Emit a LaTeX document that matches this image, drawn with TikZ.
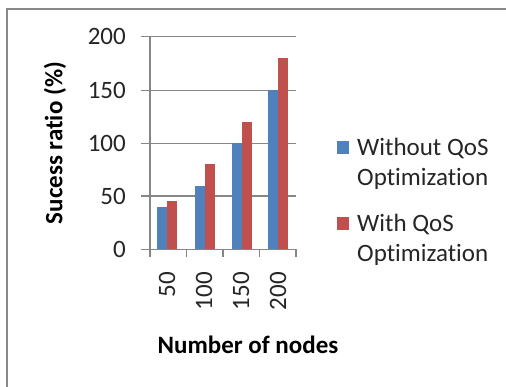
\documentclass[tikz,border=0pt]{standalone}
\usepackage{fontspec}
\setmainfont[Ligatures=NoCommon]{Carlito}
\definecolor{barblue}{HTML}{4F81BD}
\definecolor{barred}{HTML}{C0504D}
\definecolor{gridgray}{HTML}{868686}
\definecolor{framegray}{HTML}{888888}
\begin{document}
\begin{tikzpicture}[x=1pt,y=-1pt,
  lbl/.style={font=\fontsize{25}{30}\selectfont, inner sep=0pt, text=black!85},
  blbl/.style={font=\fontsize{25}{30}\selectfont\bfseries, inner sep=0pt},
  grid/.style={draw=gridgray, line width=1.1pt},
  bluebar/.style={fill=barblue},
  redbar/.style={fill=barred}]
\useasboundingbox (0,0) rectangle (506,387);
\fill[white] (0,0) rectangle (506,387);
% frame
\draw[framegray, line width=2.5pt] (520,9) -- (7,9) -- (7,400);
% grid
\foreach \v/\yy in {0/249.3,50/196,100/143.3,150/90.7,200/36.7}{
  \draw[grid] (141,\yy) -- (296,\yy);
  \node[lbl, anchor=east] (yt\v) at (126,\yy) {\v};
}
\draw[grid] (150,36.7) -- (150,257);
\foreach \xx in {186.5,223,259.5,296}{
  \draw[grid] (\xx,249.3) -- (\xx,257);
}
% bars
\begin{scope}[shift={(0,249.3)}, y={(0pt,1.0633pt)}]
  \foreach \x/\b/\r in {157.3/40/45, 194.7/60/80, 231.7/100/120, 268/150/180}{
    \fill[bluebar] (\x,0) rectangle (\x+10,\b);
    \fill[redbar] (\x+10,0) rectangle (\x+20,\r);
  }
\end{scope}
% x tick labels
\foreach \c/\t in {167/50, 204/100, 241/150, 278/200}{
  \node[lbl, rotate=90, anchor=east] (xt\t) at (\c,272) {\t};
}
% axis titles
\node[blbl, rotate=90] (ytitle) at (55,143) {Sucess ratio (\%)};
\node[blbl] (xtitle) at (248,345) {Number of nodes};
% legend
\fill[barblue] (337,141) rectangle (349,154);
\fill[barred] (337,217) rectangle (349,230);
\node[lbl, anchor=west, align=left] (leg1) at (357,164) {Without QoS\\Optimization};
\node[lbl, anchor=west, align=left] (leg2) at (357,240) {With QoS\\Optimization};
\end{tikzpicture}
\end{document}
